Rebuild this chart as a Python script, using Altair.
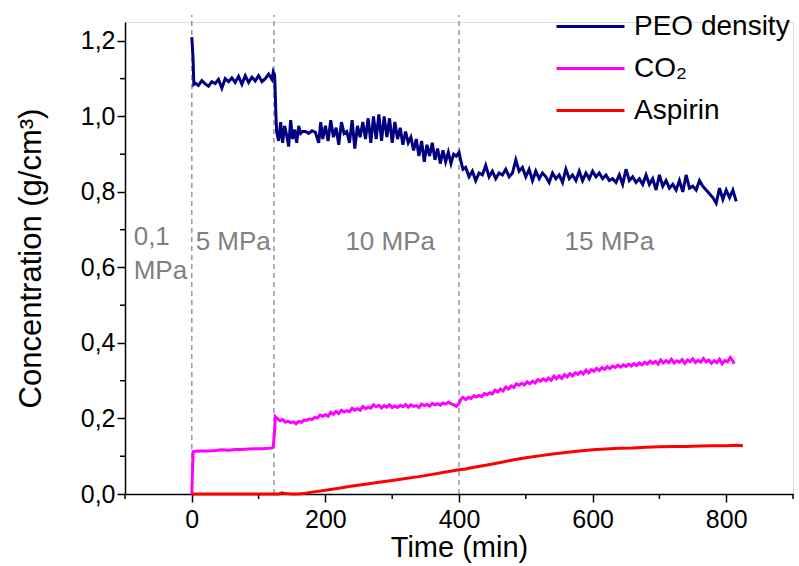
import altair as alt
import pandas as pd

# ---------------- data ----------------
peo_t = [0, 2, 3, 5, 10, 15, 20, 25, 30, 35, 40, 45, 50, 55, 60, 65, 70, 75, 80, 85, 90, 95, 100,
         105, 110, 115, 120, 122, 124, 126, 127,
         130, 133, 136, 139, 142, 145, 148, 151, 154, 157, 160, 163, 166, 170, 175, 180, 185, 190,
         193, 196, 200, 204, 208, 212, 216, 220, 224, 228, 232, 236, 240, 244, 248, 252, 256, 260,
         264, 268, 272, 276, 280, 284, 288, 292, 296, 300, 304, 308, 312, 316, 320, 324, 328, 332,
         336, 340, 344, 348, 352, 356, 360, 364, 368, 372, 376, 380, 384, 388, 392, 396, 400, 403, 406,
         410, 415, 420, 425, 430, 435, 440, 445, 450, 455, 460, 465, 470, 475, 480, 485, 490, 495,
         500, 505, 510, 515, 520, 525, 530, 535, 540, 545, 550, 555, 560, 565, 570, 575, 580, 585,
         590, 595, 600, 605, 610, 615, 620, 625, 630, 635, 640, 645, 650, 655, 660, 665, 670, 675,
         680, 685, 690, 695, 700, 705, 710, 715, 720, 725, 730, 735, 740, 745, 750, 755, 760, 765,
         770, 775, 780, 785, 790, 795, 800, 805, 810, 815]
peo_v = [1.21, 1.15, 1.085, 1.088, 1.082, 1.095, 1.086, 1.080, 1.092, 1.087, 1.098, 1.075, 1.100,
         1.092, 1.102, 1.090, 1.106, 1.085, 1.108, 1.090, 1.104, 1.094, 1.108,
         1.092, 1.100, 1.112, 1.098, 1.118, 1.110, 1.000, 0.960,
         0.935, 0.985, 0.930, 0.975, 0.950, 0.920, 0.990, 0.940, 0.965, 0.930, 0.975, 0.955, 0.960,
         0.960, 0.955, 0.962, 0.958, 0.930,
         0.985, 0.940, 0.975, 0.935, 0.990, 0.945, 0.970, 0.925, 0.985, 0.955, 0.960, 0.930, 0.990,
         0.915, 0.975, 0.945, 0.985, 0.940,
         0.995, 0.930, 1.000, 0.940, 1.005, 0.935, 1.000, 0.945, 0.995, 0.930, 0.985, 0.940, 0.970,
         0.925, 0.960, 0.930, 0.945, 0.910,
         0.940, 0.895, 0.935, 0.880, 0.925, 0.895, 0.930, 0.885, 0.915, 0.875, 0.910, 0.880, 0.905,
         0.875, 0.900, 0.895, 0.905, 0.880, 0.860,
         0.865, 0.840, 0.855, 0.830, 0.850, 0.845, 0.870, 0.840, 0.855, 0.835, 0.850, 0.845, 0.860,
         0.840, 0.850, 0.885, 0.855, 0.865,
         0.840, 0.860, 0.830, 0.855, 0.835, 0.850, 0.840, 0.825, 0.850, 0.835, 0.845, 0.825, 0.860,
         0.835, 0.845, 0.830, 0.855, 0.830,
         0.850, 0.835, 0.855, 0.840, 0.850, 0.835, 0.845, 0.830, 0.835, 0.825, 0.845, 0.820, 0.860,
         0.830, 0.840, 0.825, 0.835, 0.820,
         0.845, 0.820, 0.835, 0.805, 0.845, 0.815, 0.830, 0.810, 0.820, 0.805, 0.830, 0.800, 0.845,
         0.810, 0.815, 0.805, 0.830, 0.815,
         0.805, 0.795, 0.785, 0.770, 0.810, 0.780, 0.805, 0.785, 0.805, 0.775]

co2_t = [0, 1, 2, 5, 15, 25, 35, 45, 55, 65, 75, 85, 95, 105, 115, 120, 122, 124, 125,
         128, 132, 136, 140, 144, 148, 152, 156, 160, 164, 168, 172, 176, 180, 184, 188, 192, 196,
         200, 204, 208, 212, 216, 220, 224, 228, 232, 236, 240, 244, 248, 252, 256, 260, 264, 268,
         272, 276, 280, 284, 288, 292, 296, 300, 304, 308, 312, 316, 320, 324, 328, 332, 336, 340,
         344, 348, 352, 356, 360, 364, 368, 372, 376, 380, 384, 388, 392, 396, 400, 403, 406, 410,
         414, 418, 422, 426, 430, 434, 438, 442, 446, 450, 454, 458, 462, 466, 470, 474, 478, 482,
         486, 490, 494, 498, 502, 506, 510, 514, 518, 522, 526, 530, 534, 538, 542, 546, 550, 554,
         558, 562, 566, 570, 574, 578, 582, 586, 590, 594, 598, 602, 606, 610, 614, 618, 622, 626,
         630, 634, 638, 642, 646, 650, 654, 658, 662, 666, 670, 674, 678, 682, 686, 690, 694, 698,
         702, 706, 710, 714, 718, 722, 726, 730, 734, 738, 742, 746, 750, 754, 758, 762, 766, 770,
         774, 778, 782, 786, 790, 794, 798, 802, 806, 810, 812]
co2_v = [0.0, 0.06, 0.112, 0.113, 0.114, 0.114, 0.115, 0.117, 0.116, 0.118, 0.118, 0.119, 0.120,
         0.120, 0.121, 0.122, 0.125, 0.170, 0.205,
         0.200, 0.194, 0.197, 0.190, 0.193, 0.189, 0.191, 0.186, 0.192, 0.190, 0.196, 0.195, 0.199,
         0.197, 0.203, 0.201, 0.209, 0.206,
         0.210, 0.206, 0.216, 0.211, 0.219, 0.213, 0.222, 0.217, 0.221, 0.218, 0.227, 0.222, 0.226,
         0.222, 0.232, 0.226, 0.230, 0.227,
         0.236, 0.231, 0.235, 0.228, 0.234, 0.230, 0.236, 0.229, 0.233, 0.229, 0.235, 0.231, 0.237,
         0.230, 0.236, 0.232, 0.234, 0.229,
         0.238, 0.234, 0.237, 0.233, 0.240, 0.236, 0.239, 0.235, 0.241, 0.238, 0.243, 0.239, 0.236,
         0.232, 0.240, 0.252, 0.256, 0.250,
         0.256, 0.253, 0.260, 0.257, 0.261, 0.258, 0.266, 0.263, 0.268, 0.265, 0.275, 0.270, 0.278,
         0.273, 0.283, 0.278, 0.286, 0.282,
         0.292, 0.288, 0.293, 0.289, 0.297, 0.292, 0.299, 0.294, 0.303, 0.299, 0.305, 0.300, 0.307,
         0.301, 0.312, 0.305, 0.313, 0.306,
         0.316, 0.310, 0.319, 0.313, 0.321, 0.317, 0.324, 0.318, 0.328, 0.321, 0.329, 0.325, 0.333,
         0.327, 0.335, 0.330, 0.337, 0.332,
         0.339, 0.335, 0.341, 0.336, 0.342, 0.338, 0.344, 0.339, 0.345, 0.340, 0.347, 0.342, 0.349,
         0.344, 0.352, 0.346, 0.351, 0.344,
         0.355, 0.347, 0.353, 0.348, 0.357, 0.347, 0.353, 0.349, 0.356, 0.346, 0.355, 0.350, 0.358,
         0.348, 0.354, 0.349, 0.359, 0.350,
         0.355, 0.346, 0.353, 0.348, 0.357, 0.345, 0.354, 0.350, 0.361, 0.352, 0.345]

asp_t = [0, 120, 130, 135, 140, 150, 160, 170, 180, 200, 220, 240, 260, 280, 300, 320, 340, 360,
         380, 400, 410, 420, 440, 460, 480, 500, 520, 540, 560, 580, 600, 620, 640, 660, 680, 700,
         720, 740, 760, 780, 800, 815, 825]
asp_v = [0.0, 0.0, 0.0, 0.003, 0.001, 0.0, 0.0, 0.002, 0.005, 0.010, 0.015, 0.021, 0.026, 0.031,
         0.036, 0.041, 0.046, 0.052, 0.058, 0.064, 0.066, 0.070, 0.076, 0.083, 0.090, 0.096, 0.101,
         0.106, 0.110, 0.114, 0.117, 0.119, 0.121, 0.122, 0.124, 0.125, 0.126, 0.126, 0.127, 0.128,
         0.128, 0.129, 0.128]

series_names = ["PEO density", "CO\u2082", "Aspirin"]
series_colors = ["#000080", "#FF00FF", "#FF0000"]

pressure_lines = [0, 123, 400]
pressure_text = ["0,1", "MPa", "5 MPa", "10 MPa", "15 MPa"]
pressure_x = [-87, -87, 62, 297, 625]
pressure_y = [0.68, 0.59, 0.667, 0.667, 0.667]
pressure_align = ["left", "left", "center", "center", "center"]

x_major = [0, 200, 400, 600, 800]
x_minor = [-100, 100, 300, 500, 700, 900]
y_major = [0.0, 0.2, 0.4, 0.6, 0.8, 1.0, 1.2]
y_minor = [0.1, 0.3, 0.5, 0.7, 0.9, 1.1]

# ---------------- tables ----------------
rows = []
for i, (ts, vs) in enumerate([(peo_t, peo_v), (co2_t, co2_v), (asp_t, asp_v)]):
    for j, (t, v) in enumerate(zip(ts, vs)):
        rows.append({"t": t, "v": v, "series": series_names[i], "ord": j, "k": i})
df = pd.DataFrame(rows)

W, H = 668, 472
FONT = "Liberation Sans"

xscale = alt.Scale(domain=[-100, 900], nice=False, zero=False)
yscale = alt.Scale(domain=[0, 1.25], nice=False, zero=False)

lines = alt.Chart(df).mark_line(strokeWidth=3, clip=False).encode(
    x=alt.X("t:Q", scale=xscale,
            axis=alt.Axis(values=x_major, title="Time (min)", format="d",
                          tickSize=8, tickWidth=1.5, tickColor="black",
                          domainColor="black", domainWidth=1.5,
                          labelFont=FONT, labelFontSize=25, labelColor="black", labelPadding=5,
                          titleFont=FONT, titleFontSize=29, titleFontWeight="normal",
                          titleColor="black", titlePadding=1, grid=False)),
    y=alt.Y("v:Q", scale=yscale,
            axis=alt.Axis(values=y_major, title="Concentration (g/cm\u00b3)",
                          labelExpr="replace(format(datum.value, '.1f'), '.', ',')",
                          tickSize=8, tickWidth=1.5, tickColor="black",
                          domainColor="black", domainWidth=1.5,
                          labelFont=FONT, labelFontSize=25, labelColor="black", labelPadding=2,
                          titleFont=FONT, titleFontSize=31, titleFontWeight="normal",
                          titleColor="black", titlePadding=33, grid=False)),
    color=alt.Color("series:N",
                    scale=alt.Scale(domain=series_names, range=series_colors),
                    legend=alt.Legend(title=None, orient="none", legendX=447, legendY=-14,
                                      symbolType="M-2,0H2", symbolSize=1156, symbolStrokeWidth=3,
                                      labelFont=FONT, labelFontSize=28, labelColor="black",
                                      rowPadding=9, labelOffset=25)),
    order="ord:Q",
    detail="k:N",
)

vlines = alt.Chart(pd.DataFrame({"t": pressure_lines})).mark_rule(
    color="#888888", strokeDash=[5, 4], strokeWidth=1.3
).encode(x=alt.X("t:Q", scale=xscale), y=alt.value(H), y2=alt.value(-7))

labels = alt.Chart(pd.DataFrame({"t": pressure_x, "v": pressure_y, "txt": pressure_text,
                                 "al": pressure_align})).mark_text(
    font=FONT, fontSize=26, color="#808080", baseline="middle"
).encode(x=alt.X("t:Q", scale=xscale), y=alt.Y("v:Q", scale=yscale), text="txt:N")

labels_left = labels.transform_filter("datum.al == 'left'").mark_text(
    font=FONT, fontSize=26, color="#808080", baseline="middle", align="left")
labels_center = labels.transform_filter("datum.al == 'center'").mark_text(
    font=FONT, fontSize=26, color="#808080", baseline="middle", align="center")

xminor = alt.Chart(pd.DataFrame({"t": x_minor})).mark_rule(color="black", strokeWidth=1.5).encode(
    x=alt.X("t:Q", scale=xscale), y=alt.value(H), y2=alt.value(H + 5))
yminor = alt.Chart(pd.DataFrame({"v": y_minor})).mark_rule(color="black", strokeWidth=1.5).encode(
    y=alt.Y("v:Q", scale=yscale), x=alt.value(0), x2=alt.value(-5))

chart = alt.layer(vlines, xminor, yminor, labels_left, labels_center, lines).properties(
    width=W, height=H,
    autosize=alt.AutoSizeParams(type="none"),
    padding={"left": 125, "top": 22, "right": 6, "bottom": 72},
).configure_view(stroke=None).configure(background="white")

chart.save("out.html", embed_options={"renderer": "svg", "actions": False})
